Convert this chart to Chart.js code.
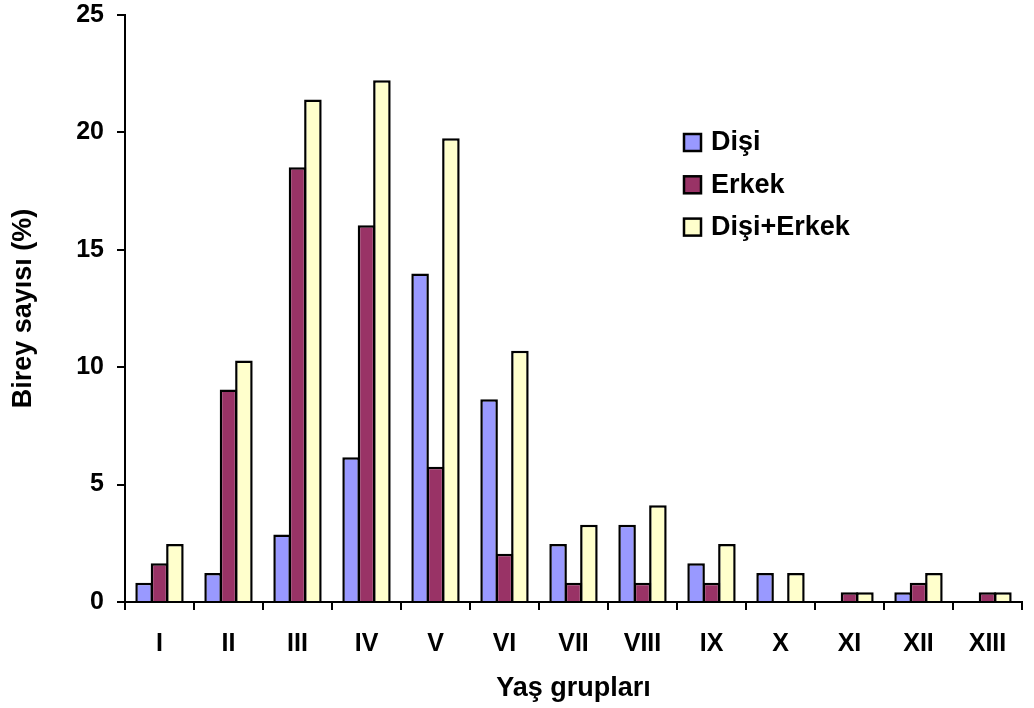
<!DOCTYPE html>
<html>
<head>
<meta charset="utf-8">
<script src="https://cdn.jsdelivr.net/npm/chart.js@4.4.1/dist/chart.umd.min.js"></script>
<style>
  body { margin: 0; background: #fff; }
  canvas { display: block; }
</style>
</head>
<body>
<canvas id="grafica" width="1034" height="708"></canvas>
<script>
// Yaş grupları ve yüzde değerleri (%)
const gruplar = ["I", "II", "III", "IV", "V", "VI", "VII", "VIII", "IX", "X", "XI", "XII", "XIII"];
const disi = [0.82, 1.23, 2.88, 6.17, 13.99, 8.64, 2.47, 3.29, 1.65, 1.23, 0, 0.41, 0];
const erkek = [1.65, 9.05, 18.52, 16.05, 5.76, 2.06, 0.82, 0.82, 0.82, 0, 0.41, 0.82, 0.41];
const toplam = [2.47, 10.29, 21.40, 22.22, 19.75, 10.70, 3.29, 4.12, 2.47, 1.23, 0.41, 1.23, 0.41];
const yTicks = [0, 5, 10, 15, 20, 25];

const yazi = "'Liberation Sans', Arial, sans-serif";

// lejant grafiğin içine, sağ üst tarafa çiziliyor
const lejant = {
  id: 'lejant',
  afterDraw(chart) {
    const ctx = chart.ctx;
    ctx.save();
    ctx.font = "bold 27px " + yazi;
    ctx.textBaseline = "middle";
    ctx.textAlign = "left";
    chart.data.datasets.forEach((ds, i) => {
      let y = 142 + i * 42.3;
      ctx.fillStyle = ds.backgroundColor;
      ctx.fillRect(684, y - 8, 17, 17);
      ctx.strokeStyle = "#000";
      ctx.lineWidth = 2.5;
      ctx.strokeRect(684, y - 8, 17, 17);
      ctx.fillStyle = "#000";
      ctx.fillText(ds.label, 711, y + 1);
    });
    ctx.restore();
  }
};

let ctx = document.getElementById('grafica').getContext('2d');
let grafica = new Chart(ctx, {
  type: 'bar',
  data: {
    labels: gruplar,
    datasets: [
      { label: 'Dişi', data: disi, backgroundColor: '#9999FF' },
      { label: 'Erkek', data: erkek, backgroundColor: '#993366' },
      { label: 'Dişi+Erkek', data: toplam, backgroundColor: '#FFFFCC' }
    ]
  },
  options: {
    responsive: false,
    animation: false,
    layout: { padding: { top: 15, right: 12, left: 0, bottom: 0 } },
    datasets: {
      bar: {
        borderColor: '#000',
        borderWidth: 2.5,
        // çubuklar kenarlarını paylaşsın diye hafif üst üste biniyor
        categoryPercentage: 0.67,
        barPercentage: 1.14
      }
    },
    plugins: {
      legend: { display: false },
      tooltip: { enabled: false }
    },
    scales: {
      x: {
        afterFit: s => { s.height = 106; s.paddingRight = 0; s.paddingLeft = 0; },
        grid: {
          offset: true,
          drawOnChartArea: false,
          tickLength: 8,
          tickColor: '#000',
          lineWidth: 2
        },
        border: { color: '#000', width: 2 },
        ticks: {
          color: '#000',
          padding: 19,
          maxRotation: 0,
          font: { family: yazi, size: 25, weight: 'bold' }
        },
        title: {
          display: true,
          text: 'Yaş grupları',
          color: '#000',
          padding: { top: 0, bottom: 3 },
          font: { family: yazi, size: 27, weight: 'bold' }
        }
      },
      y: {
        min: 0,
        max: 25,
        afterFit: s => { s.width = 125; s.paddingTop = 0; s.paddingBottom = 0; },
        afterBuildTicks: s => { s.ticks = yTicks.map(v => ({ value: v })); },
        grid: {
          drawOnChartArea: false,
          tickLength: 8,
          tickColor: '#000',
          lineWidth: 2
        },
        border: { color: '#000', width: 2 },
        ticks: {
          color: '#000',
          padding: 13,
          font: { family: yazi, size: 25, weight: 'bold' }
        },
        title: {
          display: true,
          text: 'Birey sayısı (%)',
          color: '#000',
          padding: { top: 7, bottom: 0 },
          font: { family: yazi, size: 27, weight: 'bold' }
        }
      }
    }
  },
  plugins: [lejant]
});
</script>
</body>
</html>
